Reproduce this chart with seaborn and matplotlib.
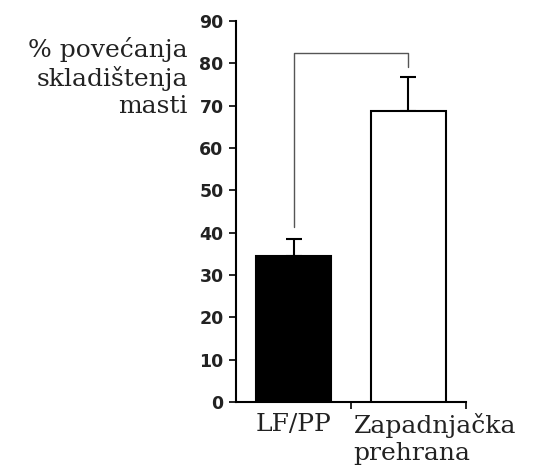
import matplotlib
matplotlib.use("Agg")
import matplotlib.pyplot as plt
import matplotlib.transforms as mtransforms
import seaborn as sns

groups = ["LF/PP", "Zapadnjačka\nprehrana"]
means = [34.6, 68.8]
errors = [3.8, 8.0]
bar_colors = ["black", "white"]
y_ticks = [0, 10, 20, 30, 40, 50, 60, 70, 80, 90]
bracket_y = 82.5
bracket_left_bottom = 41.4
bracket_right_bottom = 79.2
ylabel = "% povećanja\nskladištenja\nmasti"

sns.set_theme(style="ticks")
plt.rcParams["font.family"] = ["DejaVu Sans"]

fig = plt.figure(figsize=(5.36, 4.72), dpi=100)
ax = fig.add_axes([0.4403, 0.1483, 0.4291, 0.8072])

sns.barplot(x=groups, y=means, hue=groups, palette=bar_colors, legend=False,
            edgecolor="black", linewidth=1.5, width=0.66, ax=ax, zorder=3)

xpos = list(range(len(groups)))
ax.errorbar(xpos, means, yerr=[[0] * len(errors), errors], fmt="none",
            ecolor="black", elinewidth=1.5, capsize=6, capthick=1.5, zorder=2)

# significance bracket
ax.plot([xpos[0], xpos[0], xpos[1], xpos[1]],
        [bracket_left_bottom, bracket_y, bracket_y, bracket_right_bottom],
        color="#555555", lw=1.0, zorder=1)

ax.set_xlim(-0.5, 1.5)
ax.set_ylim(0, 90)
ax.set_yticks(y_ticks)
ax.set_yticklabels([str(v) for v in y_ticks], fontsize=12.5, fontweight="bold",
                   color="#222222")
ax.tick_params(axis="y", length=5, width=1.2, pad=4, color="black")

ax.set_xticks(xpos)
ax.set_xticklabels(groups, fontsize=18, family="DejaVu Serif", color="#222222")
ax.tick_params(axis="x", which="major", length=0, pad=8)
ax.set_xticks([0.5, 1.5], minor=True)
ax.tick_params(axis="x", which="minor", length=5, width=1.2, color="black")

lab2 = ax.get_xticklabels()[1]
lab2.set_ha("left")
lab2.set_multialignment("left")
lab2.set_linespacing(1.2)
lab2.set_transform(lab2.get_transform() +
                   mtransforms.ScaledTranslation(-0.55, 0, fig.dpi_scale_trans))

for side in ["top", "right"]:
    ax.spines[side].set_visible(False)
for side in ["left", "bottom"]:
    ax.spines[side].set_color("black")
    ax.spines[side].set_linewidth(1.5)
ax.set_xlabel("")
ax.set_ylabel("")

fig.text(188 / 536, 1 - 37 / 472, ylabel, ha="right", va="top",
         multialignment="right", fontsize=18, family="DejaVu Serif",
         linespacing=1.2, color="#222222")

fig.savefig("out.png", dpi=100, facecolor="white")
